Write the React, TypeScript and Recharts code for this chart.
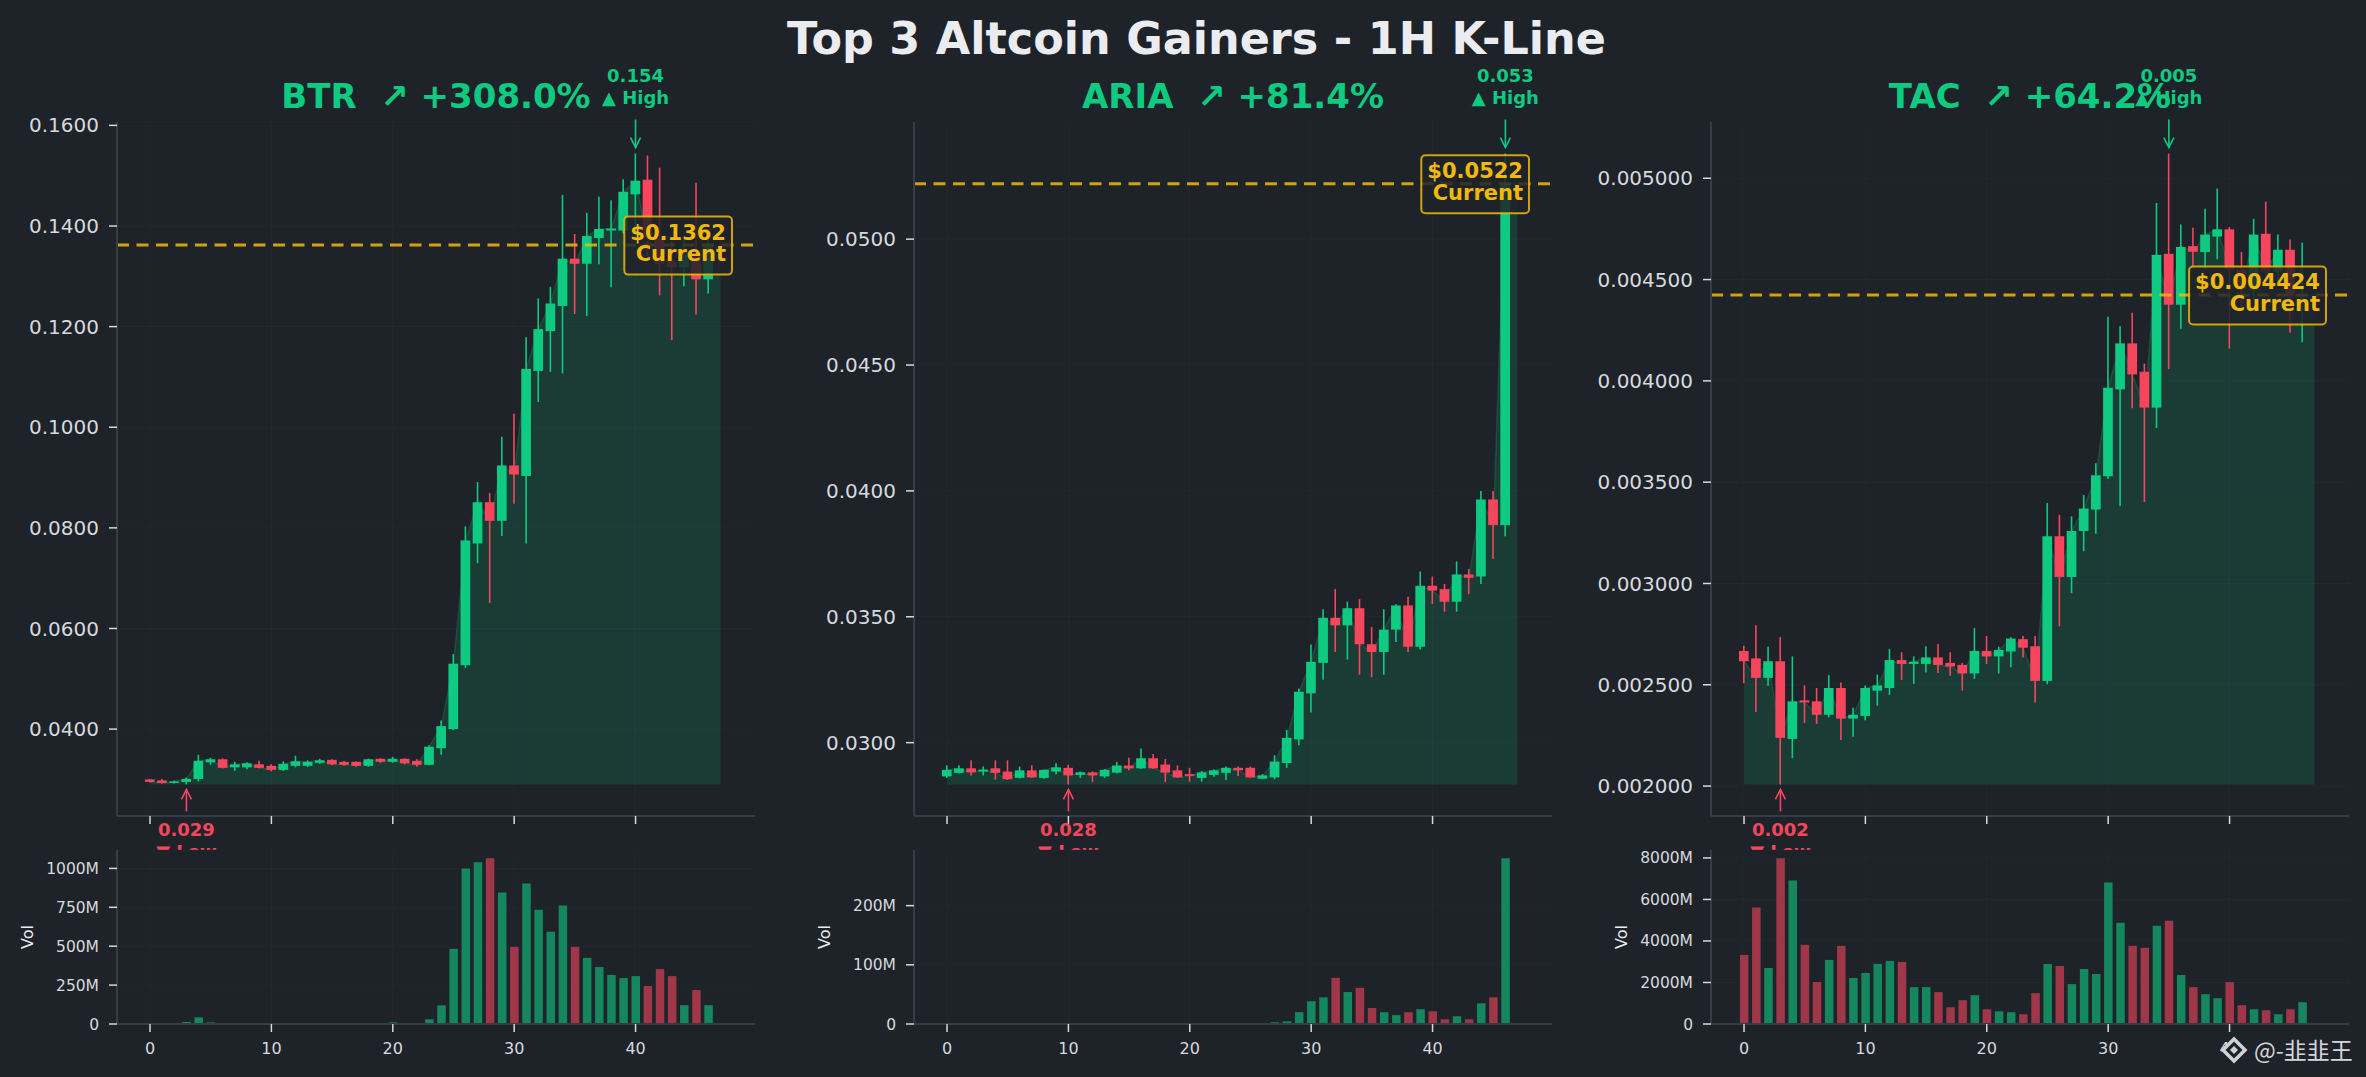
import React from 'react';
import {
  ComposedChart, Bar, Area, XAxis, YAxis, CartesianGrid,
  ReferenceLine, ReferenceDot, Cell,
} from 'recharts';

const BG = '#1e2329';
const GREEN = '#0ecb81';
const RED = '#f6465d';
const GREEN_VOL = '#14875e';
const RED_VOL = '#a03748';
const GOLD = '#f0b90b';
const TEXT = '#eaecef';
const TICK = '#d6d9de';
const SPINE = '#363c46';
const GRID = '#2b3139';
const FONT = '"DejaVu Sans", sans-serif';

// ---------- data ----------
const xTicks = [0, 10, 20, 30, 40];

const btrOpen = [0.0300,0.0298,0.0294,0.0295,0.0301,0.0334,0.0340,0.0324,0.0324,0.0330,0.0327,0.0319,0.0327,0.0327,0.0333,0.0339,0.0335,0.0335,0.0327,0.0341,0.0335,0.0341,0.0337,0.0329,0.0362,0.0400,0.0527,0.0769,0.0851,0.0814,0.0924,0.0903,0.1112,0.1191,0.1241,0.1335,0.1325,0.1376,0.1391,0.1391,0.1463,0.1492,0.1375,0.1330,0.1318,0.1340,0.1294];
const btrHigh = [0.0301,0.0301,0.0298,0.0304,0.0349,0.0343,0.0342,0.0335,0.0334,0.0337,0.0330,0.0336,0.0347,0.0338,0.0341,0.0340,0.0337,0.0336,0.0341,0.0342,0.0345,0.0342,0.0340,0.0368,0.0417,0.0549,0.0803,0.0891,0.0869,0.0981,0.1027,0.1179,0.1256,0.1279,0.1462,0.1384,0.1426,0.1458,0.1451,0.1493,0.1544,0.1540,0.1516,0.1370,0.1372,0.1486,0.1375];
const btrLow = [0.0294,0.0292,0.0292,0.0290,0.0296,0.0329,0.0322,0.0317,0.0320,0.0322,0.0316,0.0317,0.0324,0.0325,0.0331,0.0328,0.0327,0.0325,0.0325,0.0333,0.0333,0.0330,0.0325,0.0328,0.0349,0.0398,0.0522,0.0730,0.0651,0.0784,0.0848,0.0769,0.1050,0.1110,0.1107,0.1225,0.1221,0.1324,0.1278,0.1385,0.1395,0.1330,0.1262,0.1173,0.1280,0.1224,0.1266];
const btrClose = [0.0295,0.0293,0.0296,0.0301,0.0337,0.0340,0.0323,0.0330,0.0332,0.0323,0.0319,0.0331,0.0336,0.0335,0.0338,0.0330,0.0329,0.0327,0.0340,0.0335,0.0341,0.0332,0.0329,0.0365,0.0406,0.0530,0.0775,0.0851,0.0814,0.0924,0.0906,0.1116,0.1195,0.1246,0.1335,0.1325,0.1380,0.1394,0.1395,0.1468,0.1490,0.1375,0.1325,0.1318,0.1345,0.1294,0.1362];
const btrVol = [2,1,2,13,43,10,1,2,1,1,2,1,1,2,1,1,1,2,1,1,10,1,2,30,120,483,1000,1040,1065,845,496,903,735,593,761,496,425,366,315,295,308,244,353,308,121,218,121];

const ariaOpen = [0.02866,0.02880,0.02898,0.02885,0.02898,0.02885,0.02860,0.02890,0.02860,0.02885,0.02900,0.02872,0.02882,0.02866,0.02881,0.02909,0.02898,0.02938,0.02913,0.02890,0.02875,0.02860,0.02872,0.02880,0.02900,0.02900,0.02857,0.02862,0.02919,0.03013,0.03196,0.03317,0.03496,0.03466,0.03534,0.03391,0.03360,0.03449,0.03545,0.03381,0.03623,0.03610,0.03560,0.03668,0.03660,0.03966,0.03864];
const ariaHigh = [0.02910,0.02910,0.02930,0.02905,0.02930,0.02930,0.02905,0.02910,0.02892,0.02918,0.02912,0.02885,0.02886,0.02895,0.02923,0.02940,0.02977,0.02955,0.02935,0.02910,0.02900,0.02888,0.02893,0.02905,0.02905,0.02905,0.02875,0.02950,0.03051,0.03215,0.03390,0.03530,0.03610,0.03560,0.03570,0.03460,0.03530,0.03550,0.03580,0.03680,0.03660,0.03630,0.03720,0.03690,0.04000,0.04000,0.05340];
const ariaLow = [0.02860,0.02878,0.02870,0.02870,0.02853,0.02852,0.02858,0.02860,0.02857,0.02875,0.02834,0.02860,0.02843,0.02860,0.02878,0.02890,0.02895,0.02895,0.02843,0.02860,0.02845,0.02845,0.02865,0.02852,0.02868,0.02860,0.02855,0.02855,0.02900,0.02990,0.03120,0.03250,0.03360,0.03330,0.03270,0.03260,0.03270,0.03400,0.03360,0.03370,0.03550,0.03520,0.03520,0.03590,0.03630,0.03730,0.03820];
const ariaClose = [0.02892,0.02898,0.02882,0.02893,0.02880,0.02855,0.02890,0.02862,0.02892,0.02902,0.02870,0.02882,0.02870,0.02892,0.02909,0.02898,0.02938,0.02898,0.02881,0.02862,0.02868,0.02882,0.02890,0.02900,0.02890,0.02862,0.02870,0.02925,0.03019,0.03202,0.03321,0.03496,0.03466,0.03534,0.03391,0.03360,0.03449,0.03545,0.03381,0.03623,0.03604,0.03560,0.03668,0.03655,0.03966,0.03864,0.05220];
const ariaVol = [0.6,0.4,0.5,0.3,0.5,0.6,0.4,0.3,0.5,0.4,0.7,0.4,0.5,0.3,0.6,0.5,0.8,0.6,0.5,0.4,0.4,0.3,0.4,0.5,0.4,0.6,0.5,3,4.5,20,38.5,45,78,54,61,27,20,15,20,25,21.5,8,13,8,35,45,280];

const tacOpen = [0.002667,0.002630,0.002534,0.002616,0.002233,0.002423,0.002418,0.002352,0.002484,0.002333,0.002346,0.002471,0.002484,0.002622,0.002603,0.002603,0.002635,0.002608,0.002598,0.002556,0.002667,0.002640,0.002664,0.002725,0.002690,0.002519,0.003233,0.003032,0.003259,0.003365,0.003529,0.003958,0.004185,0.004045,0.003868,0.004627,0.004376,0.004665,0.004636,0.004712,0.004748,0.004550,0.004450,0.004726,0.004540,0.004647,0.004420];
const tacHigh = [0.002693,0.002794,0.002688,0.002735,0.002640,0.002497,0.002484,0.002548,0.002511,0.002386,0.002497,0.002550,0.002677,0.002661,0.002640,0.002690,0.002701,0.002661,0.002608,0.002780,0.002741,0.002688,0.002735,0.002741,0.002741,0.003397,0.003339,0.003331,0.003437,0.003593,0.004317,0.004270,0.004336,0.004085,0.004878,0.005122,0.004772,0.004756,0.004850,0.004949,0.004759,0.004636,0.004800,0.004884,0.004723,0.004698,0.004682];
const tacLow = [0.002508,0.002365,0.002495,0.002008,0.002138,0.002312,0.002307,0.002339,0.002227,0.002243,0.002325,0.002397,0.002450,0.002524,0.002505,0.002561,0.002558,0.002545,0.002471,0.002529,0.002603,0.002556,0.002587,0.002635,0.002413,0.002503,0.002788,0.002952,0.003159,0.003246,0.003516,0.003381,0.003865,0.003402,0.003767,0.004058,0.004257,0.004560,0.004550,0.004600,0.004159,0.004360,0.004400,0.004480,0.004470,0.004238,0.004191];
const tacClose = [0.002616,0.002534,0.002616,0.002238,0.002418,0.002413,0.002352,0.002484,0.002333,0.002352,0.002484,0.002497,0.002622,0.002603,0.002614,0.002635,0.002598,0.002590,0.002556,0.002667,0.002640,0.002672,0.002728,0.002683,0.002519,0.003233,0.003032,0.003259,0.003370,0.003534,0.003966,0.004185,0.004032,0.003868,0.004622,0.004376,0.004661,0.004637,0.004722,0.004748,0.004550,0.004450,0.004722,0.004540,0.004647,0.004420,0.004424];
const tacVol = [3329,5608,2699,7983,6917,3814,2020,3087,3765,2214,2456,2893,3038,2990,1778,1778,1535,808,1147,1390,711,614,566,469,1487,2893,2796,1923,2650,2408,6820,4880,3765,3668,4735,4977,2359,1778,1438,1244,2020,905,711,663,469,711,1050];

const btrPriceTicks = [0.04, 0.06, 0.08, 0.10, 0.12, 0.14, 0.16];
const ariaPriceTicks = [0.03, 0.035, 0.04, 0.045, 0.05];
const tacPriceTicks = [0.002, 0.0025, 0.003, 0.0035, 0.004, 0.0045, 0.005];
const btrVolTicks = [0, 250, 500, 750, 1000];
const ariaVolTicks = [0, 100, 200];
const tacVolTicks = [0, 2000, 4000, 6000, 8000];

const symbols = ['BTR', 'ARIA', 'TAC'];
const gains = ['+308.0%', '+81.4%', '+64.2%'];
const mainTitle = 'Top 3 Altcoin Gainers - 1H K-Line';
const watermark = '@-韭韭王';

const coins = [
  { sym: symbols[0], gain: gains[0], open: btrOpen, high: btrHigh, low: btrLow, close: btrClose, vol: btrVol, pTicks: btrPriceTicks, vTicks: btrVolTicks, dec: 4 },
  { sym: symbols[1], gain: gains[1], open: ariaOpen, high: ariaHigh, low: ariaLow, close: ariaClose, vol: ariaVol, pTicks: ariaPriceTicks, vTicks: ariaVolTicks, dec: 4 },
  { sym: symbols[2], gain: gains[2], open: tacOpen, high: tacHigh, low: tacLow, close: tacClose, vol: tacVol, pTicks: tacPriceTicks, vTicks: tacVolTicks, dec: 6 },
];

// ---------- layout ----------
const PANEL_STEP = 797;
const CHART_W = 765;
const AXIS_W = 117;
const X_DOMAIN: [number, number] = [-2.72, 49.84];
const TAG_X = 47.45;
const BODY_W = 9.7;

const BOLD_W: Record<string, number> = {
  '0': 0.696, '1': 0.696, '2': 0.696, '3': 0.696, '4': 0.696, '5': 0.696, '6': 0.696, '7': 0.696, '8': 0.696, '9': 0.696,
  '$': 0.696, '.': 0.38, C: 0.734, u: 0.712, r: 0.493, e: 0.678, n: 0.712, t: 0.478,
};
const textW = (s: string, fs: number) => {
  let w = 0;
  for (const ch of s) w += BOLD_W[ch] ?? 0.7;
  return w * fs;
};

const Candle = (props: any) => {
  const { x, y, width, height, payload } = props;
  if (!payload || payload.h == null || !isFinite(y) || !isFinite(height)) return <g />;
  const { o, h, l, c } = payload;
  const color = c >= o ? GREEN : RED;
  const top = Math.min(y, y + height);
  const k = Math.abs(height) / (h - l);
  const py = (v: number) => top + (h - v) * k;
  const cx = x + width / 2;
  const bTop = py(Math.max(o, c));
  const bBot = py(Math.min(o, c));
  const bh = Math.max(bBot - bTop, 1.5);
  return (
    <g>
      <line x1={cx} x2={cx} y1={py(h)} y2={py(l)} stroke={color} strokeWidth={1.6} />
      <rect x={cx - BODY_W / 2} y={bTop} width={BODY_W} height={bh} fill={color} />
    </g>
  );
};

const HighMark = ({ cx, cy, label }: any) => {
  const tip = cy - 6;
  const tail = cy - 34;
  return (
    <g>
      <line x1={cx} y1={tail} x2={cx} y2={tip} stroke={GREEN} strokeWidth={1.6} />
      <path d={`M${cx - 5},${tip - 10} L${cx},${tip} L${cx + 5},${tip - 10}`} fill="none" stroke={GREEN} strokeWidth={1.6} />
      <text x={cx} y={cy - 50} textAnchor="middle" fill={GREEN} fontSize={18} fontWeight="bold" fontFamily={FONT}>▲ High</text>
      <text x={cx} y={cy - 72} textAnchor="middle" fill={GREEN} fontSize={18} fontWeight="bold" fontFamily={FONT}>{label}</text>
    </g>
  );
};

const LowMark = ({ cx, cy, label }: any) => {
  const tip = cy + 5;
  const tail = cy + 27;
  return (
    <g>
      <line x1={cx} y1={tail} x2={cx} y2={tip} stroke={RED} strokeWidth={1.6} />
      <path d={`M${cx - 5},${tip + 10} L${cx},${tip} L${cx + 5},${tip + 10}`} fill="none" stroke={RED} strokeWidth={1.6} />
      <text x={cx} y={cy + 52} textAnchor="middle" fill={RED} fontSize={18} fontWeight="bold" fontFamily={FONT}>{label}</text>
      <text x={cx} y={cy + 74} textAnchor="middle" fill={RED} fontSize={18} fontWeight="bold" fontFamily={FONT}>▼ Low</text>
    </g>
  );
};

const CurrentTag = ({ cx, cy, text }: any) => {
  const fs = 21;
  const tw = Math.max(textW(text, fs), textW('Current', fs));
  const right = cx + 6;
  const left = cx - tw - 6;
  return (
    <g>
      <rect x={left} y={cy - 28.5} width={right - left} height={58} rx={4} fill={BG} fillOpacity={0.85} stroke={GOLD} strokeOpacity={0.85} strokeWidth={2} />
      <text x={cx} y={cy - 5.5} textAnchor="end" fill={GOLD} fontSize={fs} fontWeight="bold" fontFamily={FONT}>{text}</text>
      <text x={cx} y={cy + 16} textAnchor="end" fill={GOLD} fontSize={fs} fontWeight="bold" fontFamily={FONT}>Current</text>
    </g>
  );
};

const EmptyTick = () => <g />;

function Panel({ coin, left }: any) {
  const n = coin.close.length;
  const rows: any[] = coin.open.map((o: number, i: number) => ({
    i, o, h: coin.high[i], l: coin.low[i], c: coin.close[i], fc: coin.close[i],
  }));
  rows.push({ i: n, fc: coin.close[n - 1] });
  const minLow = Math.min(...coin.low);
  const maxHigh = Math.max(...coin.high);
  const span = maxHigh - minLow;
  const yDomain: [number, number] = [minLow - span * 0.05, maxHigh + span * 0.05];
  const hiIdx = coin.high.indexOf(maxHigh);
  const loIdx = coin.low.indexOf(minLow);
  const cur = coin.close[n - 1];
  const volRows = coin.vol.map((v: number, i: number) => ({ i, v }));
  const vmax = Math.max(...coin.vol);

  const axisLine = { stroke: SPINE, strokeWidth: 2 };
  const tickLine = { stroke: TICK, strokeWidth: 1.5 };

  return (
    <>
      <div style={{ position: 'absolute', left, top: 0 }}>
        <ComposedChart width={CHART_W} height={880} data={rows} margin={{ top: 122, right: 10, bottom: 34, left: 0 }}>
          <CartesianGrid stroke={GRID} strokeOpacity={0.35} />
          <XAxis dataKey="i" type="number" domain={X_DOMAIN} ticks={xTicks} allowDataOverflow height={30}
            axisLine={axisLine} tickLine={tickLine} tickSize={8} tick={EmptyTick} />
          <YAxis type="number" domain={yDomain} ticks={coin.pTicks} allowDataOverflow width={AXIS_W}
            axisLine={axisLine} tickLine={tickLine} tickSize={8} tickMargin={10}
            tickFormatter={(v: number) => v.toFixed(coin.dec)}
            tick={{ fill: TICK, fontSize: 20, fontFamily: FONT }} />
          <Area dataKey="fc" type="linear" baseValue={minLow} fill={GREEN} fillOpacity={0.15}
            stroke={GREEN} strokeOpacity={0.2} strokeWidth={1.5} isAnimationActive={false} dot={false} activeDot={false} />
          <Bar dataKey={(d: any) => (d.h == null ? null : [d.l, d.h])} barSize={BODY_W} shape={Candle} isAnimationActive={false} />
          <ReferenceLine y={cur} stroke={GOLD} strokeOpacity={0.85} strokeWidth={3} strokeDasharray="12 7.5" />
          <ReferenceDot x={hiIdx} y={maxHigh} r={3} shape={(p: any) => <HighMark cx={p.cx} cy={p.cy} label={maxHigh.toFixed(3)} />} />
          <ReferenceDot x={loIdx} y={minLow} r={3} shape={(p: any) => <LowMark cx={p.cx} cy={p.cy} label={minLow.toFixed(3)} />} />
          <ReferenceDot x={TAG_X} y={cur} r={3} shape={(p: any) => <CurrentTag cx={p.cx} cy={p.cy} text={'$' + cur.toFixed(coin.dec)} />} />
        </ComposedChart>
      </div>
      <div style={{ position: 'absolute', left, top: 820 }}>
        <ComposedChart width={CHART_W} height={254} data={volRows} margin={{ top: 30, right: 10, bottom: 0, left: 0 }}>
          <CartesianGrid fill={BG} fillOpacity={1} stroke={GRID} strokeOpacity={0.35} />
          <XAxis dataKey="i" type="number" domain={X_DOMAIN} ticks={xTicks} allowDataOverflow height={50}
            axisLine={axisLine} tickLine={tickLine} tickSize={8} tickMargin={11}
            tick={{ fill: TICK, fontSize: 16, fontFamily: FONT }} />
          <YAxis type="number" domain={[0, vmax * 1.05]} ticks={coin.vTicks} allowDataOverflow width={AXIS_W}
            axisLine={axisLine} tickLine={tickLine} tickSize={8} tickMargin={10}
            tickFormatter={(v: number) => (v === 0 ? '0' : `${v}M`)}
            tick={{ fill: TICK, fontSize: 15.5, fontFamily: FONT }} />
          <Bar dataKey="v" barSize={8.5} isAnimationActive={false}>
            {volRows.map((r: any) => (
              <Cell key={r.i} fill={coin.close[r.i] >= coin.open[r.i] ? GREEN_VOL : RED_VOL} />
            ))}
          </Bar>
        </ComposedChart>
      </div>
    </>
  );
}

export default function App() {
  return (
    <div style={{ position: 'absolute', left: 0, top: 0, width: 2366, height: 1077, background: BG, overflow: 'hidden', fontFamily: FONT }}>
      <svg width={2366} height={1077} style={{ position: 'absolute', left: 0, top: 0 }}>
        <text x={1196.5} y={53.5} textAnchor="middle" fill={TEXT} fontSize={44.5} fontWeight="bold" fontFamily={FONT}>{mainTitle}</text>
        {coins.map((c, k) => (
          <g key={c.sym}>
            <text x={k * PANEL_STEP + 436} y={108} textAnchor="middle" fill={GREEN} fontSize={34} fontWeight="bold" fontFamily={FONT} style={{ whiteSpace: 'pre' }}>
              {`${c.sym}  ↗ ${c.gain}`}
            </text>
            <text transform={`translate(${k * PANEL_STEP + 33},937) rotate(-90)`} textAnchor="middle" fill={TEXT} fontSize={16} fontFamily={FONT}>Vol</text>
          </g>
        ))}
      </svg>
      {coins.map((c, k) => (
        <Panel key={c.sym} coin={c} left={k * PANEL_STEP} />
      ))}
      <svg width={2366} height={1077} style={{ position: 'absolute', left: 0, top: 0, pointerEvents: 'none' }}>
        <g transform="translate(2234,1050)">
          <polygon points="0,-13.5 13.5,0 0,13.5 -13.5,0" fill="#cfd2d8" />
          <polygon points="0,-8.5 8.5,0 0,8.5 -8.5,0" fill={BG} />
          <polygon points="0,-4 4,0 0,4 -4,0" fill="#cfd2d8" />
        </g>
        <text x={2254} y={1059} fill="#d4d6da" fontSize={23} fontFamily='"Noto Sans CJK SC", sans-serif'>{watermark}</text>
      </svg>
    </div>
  );
}
